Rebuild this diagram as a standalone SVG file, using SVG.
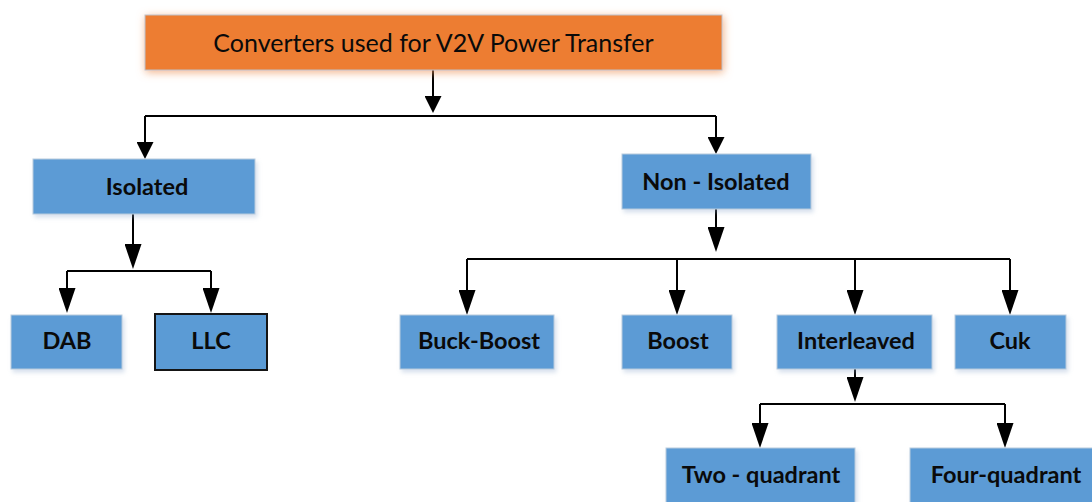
<svg xmlns="http://www.w3.org/2000/svg" width="1092" height="502" viewBox="0 0 1092 502">
  <style>
    .box { fill: #5B9BD5; stroke: #B9CBDD; stroke-width: 1; filter: url(#soft); }
    .box-dark { fill: #5B9BD5; stroke: #151515; stroke-width: 2; }
    .root { fill: #ED7D31; stroke: #BFC3C9; stroke-width: 1; filter: url(#glow); }
    .label { font-family: Lato, "Open Sans", "Liberation Sans", sans-serif; font-weight: 700; font-size: 23.5px; fill: #0A0A0A; text-anchor: middle; }
    .title { font-family: Lato, "Open Sans", "Liberation Sans", sans-serif; font-weight: 400; font-size: 25px; fill: #0A0A0A; text-anchor: middle; }
    .wire { fill: none; stroke: #000; stroke-width: 2; }
    .drop { marker-end: url(#head); }
    .drop-s { marker-end: url(#head-s); }
  </style>
  <defs>
    <filter id="soft" x="-10%" y="-20%" width="125%" height="150%">
      <feDropShadow dx="2" dy="3" stdDeviation="2" flood-color="#8EA9CC" flood-opacity="0.35"/>
    </filter>
    <filter id="glow" x="-10%" y="-40%" width="120%" height="180%">
      <feDropShadow dx="1" dy="2" stdDeviation="4" flood-color="#EE9A62" flood-opacity="0.75"/>
    </filter>
    <marker id="head" markerUnits="userSpaceOnUse" markerWidth="25" markerHeight="17" viewBox="0 0 25 17" refX="20" refY="8.5" orient="auto">
      <path d="M0,0 L25,8.5 L0,17 z" fill="#000"/>
    </marker>
    <marker id="head-s" markerUnits="userSpaceOnUse" markerWidth="17" markerHeight="17" viewBox="0 0 17 17" refX="12" refY="8.5" orient="auto">
      <path d="M0,0 L17,8.5 L0,17 z" fill="#000"/>
    </marker>
  </defs>

  <g id="connectors">
    <!-- root to the two families -->
    <path class="wire drop-s" d="M433,70 V108"/>
    <path class="wire" d="M145,116 H716"/>
    <path class="wire drop-s" d="M145,116 V154"/>
    <path class="wire drop-s" d="M716,116 V149"/>
    <!-- isolated branch -->
    <path class="wire drop" d="M133,214 V264"/>
    <path class="wire" d="M67,271 H211"/>
    <path class="wire drop" d="M67,271 V308"/>
    <path class="wire drop" d="M211,271 V308"/>
    <!-- non-isolated branch -->
    <path class="wire drop" d="M716,209 V247"/>
    <path class="wire" d="M467,259 H1010"/>
    <path class="wire drop" d="M467,259 V310"/>
    <path class="wire drop" d="M677,259 V310"/>
    <path class="wire drop" d="M855,259 V310"/>
    <path class="wire drop" d="M1010,259 V310"/>
    <!-- interleaved branch -->
    <path class="wire drop" d="M855,369 V397"/>
    <path class="wire" d="M760,404 H1005"/>
    <path class="wire drop" d="M760,404 V443"/>
    <path class="wire drop" d="M1005,404 V443"/>
  </g>

  <g id="root">
    <rect class="root" x="145" y="15" width="577" height="55"/>
    <text class="title" x="433.5" y="52">Converters used for V2V Power Transfer</text>
  </g>

  <g id="isolated">
    <rect class="box" x="33" y="159" width="222" height="55"/>
    <text class="label" x="147" y="195">Isolated</text>
  </g>

  <g id="non-isolated">
    <rect class="box" x="622" y="154" width="189" height="55"/>
    <text class="label" x="716" y="190">Non - Isolated</text>
  </g>

  <g id="dab">
    <rect class="box" x="11" y="315" width="111" height="54"/>
    <text class="label" x="67" y="349">DAB</text>
  </g>

  <g id="llc">
    <rect class="box-dark" x="155" y="314" width="112" height="56"/>
    <text class="label" x="211" y="349">LLC</text>
  </g>

  <g id="buck-boost">
    <rect class="box" x="400" y="315" width="154" height="54"/>
    <text class="label" x="479" y="349">Buck-Boost</text>
  </g>

  <g id="boost">
    <rect class="box" x="622" y="315" width="110" height="54"/>
    <text class="label" x="678" y="349">Boost</text>
  </g>

  <g id="interleaved">
    <rect class="box" x="777" y="315" width="155" height="54"/>
    <text class="label" x="856" y="349">Interleaved</text>
  </g>

  <g id="cuk">
    <rect class="box" x="955" y="315" width="111" height="54"/>
    <text class="label" x="1010" y="349">Cuk</text>
  </g>

  <g id="two-quadrant">
    <rect class="box" x="666" y="448" width="189" height="62"/>
    <text class="label" x="761" y="483">Two - quadrant</text>
  </g>

  <g id="four-quadrant">
    <rect class="box" x="910" y="448" width="190" height="62"/>
    <text class="label" x="1006" y="483">Four-quadrant</text>
  </g>
</svg>
